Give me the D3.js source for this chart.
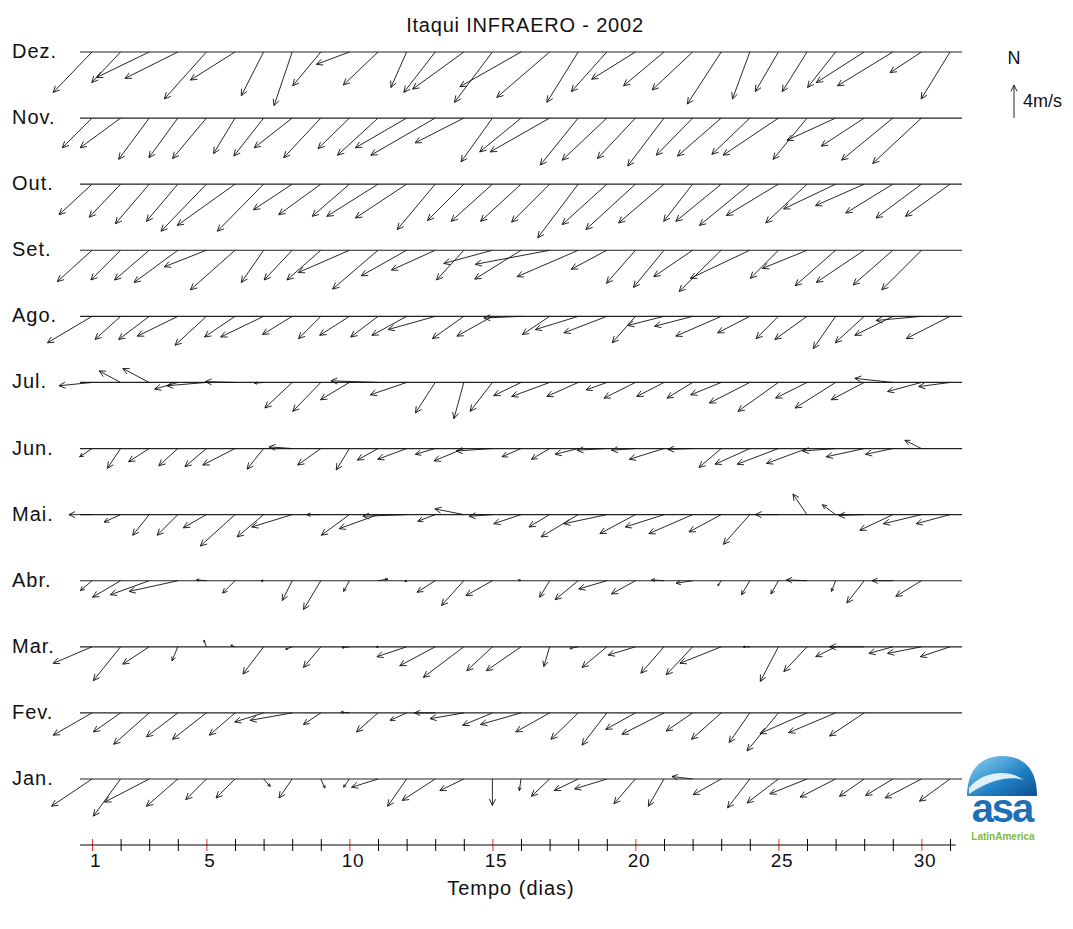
<!DOCTYPE html>
<html>
<head>
<meta charset="utf-8">
<script src="https://cdn.jsdelivr.net/npm/d3@7"></script>
<style>
  body { margin: 0; background: #fff; }
  svg text { font-family: "Liberation Sans", Arial, sans-serif; fill: #111; }
</style>
</head>
<body>
<svg id="chart"></svg>
<script>
// month rows, top to bottom
const months = ["Dez.", "Nov.", "Out.", "Set.", "Ago.", "Jul.", "Jun.", "Mai.", "Abr.", "Mar.", "Fev.", "Jan."];

// daily wind components (m/s): u = east, v = north
const uDez = [-4.7,-3.5,-6.4,-6.4,-5.1,-5.4,-2.7,-2.2,-3.4,-4.0,-4.2,-1.9,-3.8,-6.2,-4.6,-7.4,-6.4,-3.8,-4.3,-5.3,-4.9,-4.9,-4.1,-2.1,-2.8,-3.0,-3.4,-5.8,-6.7,-3.8,-3.5];
const vDez = [-4.9,-3.7,-3.1,-3.2,-5.7,-3.4,-5.3,-6.5,-4.1,-1.5,-4.0,-4.3,-4.9,-4.5,-6.1,-4.2,-5.5,-6.1,-4.8,-3.3,-4.1,-4.6,-6.3,-5.7,-4.8,-4.8,-4.3,-3.7,-4.1,-2.5,-5.7];
const uNov = [-3.6,-4.9,-3.7,-3.5,-4.1,-2.6,-3.6,-4.6,-4.5,-3.8,-4.9,-6.2,-7.8,-5.9,-3.8,-5.0,-7.2,-4.6,-5.4,-4.6,-4.4,-4.4,-5.3,-4.6,-6.7,-4.1,-5.9,-5.2,-6.2,-5.9];
const vNov = [-3.6,-3.6,-5.0,-4.8,-4.9,-4.3,-4.6,-3.6,-4.8,-3.7,-4.5,-3.6,-4.5,-3.0,-5.3,-4.1,-4.1,-5.7,-5.1,-4.9,-5.8,-4.5,-4.6,-4.4,-4.5,-5.0,-2.7,-3.4,-5.1,-5.5];
const uOut = [-4.0,-3.8,-4.1,-3.8,-5.5,-7.0,-5.6,-4.7,-5.1,-4.5,-6.2,-6.2,-4.6,-4.4,-5.0,-4.9,-4.6,-4.9,-5.4,-6.0,-5.5,-3.5,-5.5,-6.1,-6.3,-5.0,-6.3,-5.9,-5.7,-5.5,-5.4];
const vOut = [-3.7,-4.0,-4.8,-4.5,-5.7,-5.0,-5.7,-3.1,-3.7,-3.9,-3.9,-4.1,-5.5,-4.4,-4.5,-4.5,-4.6,-6.5,-4.9,-5.5,-4.7,-4.5,-4.5,-5.0,-3.8,-4.7,-3.0,-2.6,-3.5,-4.1,-3.9];
const uSet = [-4.2,-3.6,-4.2,-5.3,-5.1,-5.4,-2.7,-3.4,-4.1,-6.2,-5.5,-5.5,-5.3,-3.3,-5.9,-5.6,-9.0,-7.4,-4.3,-3.5,-3.7,-4.7,-5.1,-7.2,-3.4,-5.4,-4.9,-5.8,-4.8,-4.8];
const vSet = [-3.8,-3.6,-3.6,-3.9,-2.0,-4.8,-3.9,-3.6,-3.6,-2.7,-4.7,-3.1,-2.4,-3.6,-1.6,-3.5,-1.7,-3.2,-2.3,-4.0,-4.5,-3.2,-5.0,-3.4,-3.4,-2.2,-4.3,-3.9,-4.2,-4.8];
const uAgo = [-5.4,-3.1,-3.7,-4.9,-3.8,-3.7,-5.2,-3.6,-2.7,-3.6,-3.3,-4.2,-5.7,-3.8,-4.3,-4.5,-3.3,-5.2,-5.2,-2.8,-4.4,-4.6,-5.5,-3.9,-2.7,-3.9,-2.7,-3.5,-4.6,-5.5,-5.3];
const vAgo = [-3.2,-2.8,-2.8,-2.4,-3.5,-2.5,-2.5,-2.2,-2.7,-2.3,-2.5,-2.3,-1.6,-2.7,-2.4,-0.2,-2.2,-1.6,-2.0,-3.2,-1.1,-1.2,-2.4,-2.0,-2.7,-2.8,-3.9,-3.2,-2.3,-0.5,-2.7];
const uJul = [-4.0,-2.6,-3.2,-2.8,-4.8,-3.6,-1.1,-3.3,-3.4,-3.5,-5.7,-4.4,-2.4,-1.2,-2.7,-3.3,-4.6,-3.8,-2.5,-3.8,-3.3,-3.1,-3.7,-4.9,-4.9,-3.8,-4.9,-4.0,-4.6,-4.1,-3.8];
const vJul = [-0.4,1.4,1.7,-0.8,-0.4,0.1,-0.1,-3.1,-3.5,-2.1,0.2,-1.5,-3.7,-4.4,-3.5,-1.6,-1.7,-1.7,-0.9,-1.9,-1.7,-1.9,-1.5,-2.5,-3.5,-1.9,-3.1,-2.1,0.5,-1.1,-0.5];
const uJun = [-1.5,-1.6,-2.5,-2.3,-2.6,-3.9,-2.0,-2.8,-2.8,-1.6,-2.5,-3.5,-2.4,-3.6,-4.4,-2.3,-2.2,-2.8,-3.6,-2.9,-4.2,-3.0,-2.7,-4.2,-5.0,-4.9,-4.0,-4.6,-3.3,-2.0];
const vJun = [-1.0,-2.4,-1.6,-2.1,-2.2,-2.0,-2.5,0.2,-2.0,-2.6,-1.4,-1.3,-0.7,-1.5,-0.3,-1.0,-1.3,-0.7,-0.2,-0.2,-1.3,-0.1,-2.3,-1.9,-1.9,-1.8,-0.3,-1.0,-0.7,1.0];
const uMai = [-2.8,-2.0,-2.0,-2.5,-2.8,-4.2,-3.2,-4.9,-1.7,-3.4,-4.7,-5.3,-2.1,-3.5,-2.8,-3.3,-2.5,-4.5,-5.2,-4.3,-4.7,-5.3,-3.9,-3.2,-2.8,-1.7,-1.6,-3.1,-4.0,-4.6,-4.1];
const vMai = [0,-0.9,-2.5,-2.5,-1.6,-3.8,-2.7,-1.5,0,-2.5,-1.7,-0.2,-0.8,0.7,-0.2,-1.1,-1.5,-2.7,-1.1,-2.3,-1.5,-2.3,-2.1,-3.6,0,2.5,1.2,-0.1,-1.9,-1.1,-1.1];
const uAbr = [-1.4,-3.4,-4.7,-5.9,-1.2,-1.5,-0.3,-1.2,-2.1,-0.7,1.2,-0.2,-2.2,-2.7,-3.2,-0.3,-1.2,-2.8,-3.4,-2.9,-1.5,-2.0,-0.4,-1.0,-0.9,-2.5,-0.5,-2.1,-2.5,-3.1];
const vAbr = [-1.2,-2.0,-1.7,-1.3,0.1,-1.5,0,-2.4,-3.5,-1.3,0.2,-0.1,-1.4,-3.0,-1.8,0.1,-2.0,-2.3,-1.0,-1.6,0.1,-0.3,-0.6,-1.7,-1.6,0.1,-1.3,-2.7,0,-1.9];
const uMar = [-4.7,-3.3,-3.2,-0.7,-0.3,-0.5,-2.5,-0.8,-2.1,-0.9,-0.2,-3.6,-4.3,-4.9,-3.1,-4.2,-0.7,-1.0,-3.0,-3.3,-2.8,-3.2,-5.0,-0.8,-2.2,-2.8,-2.4,-4.2,-2.9,-4.1,-3.6];
const vMar = [-2.0,-4.1,-2.1,-1.7,0.8,0.2,-3.3,-0.3,-2.5,-0.1,0,-1.2,-2.3,-3.7,-2.9,-2.9,-2.4,-0.2,-2.5,-1.0,-3.2,-3.4,-2.0,0,-4.2,-3.0,-1.2,0,-0.8,-0.8,-1.2];
const uFev = [-4.7,-3.3,-4.3,-3.8,-4.1,-3.1,-3.5,-5.1,-2.1,-1.0,-2.6,-2.0,-2.5,-4.1,-3.6,-4.9,-4.1,-3.3,-3.0,-3.6,-5.1,-3.2,-3.6,-2.5,-3.8,-5.7,-5.7,-4.2];
const vFev = [-2.7,-2.3,-3.8,-2.9,-3.2,-2.7,-1.1,-0.9,-1.4,0.1,-2.3,-0.9,0,-0.7,-1.5,-1.4,-2.3,-3.2,-3.9,-2.0,-2.6,-2.2,-3.2,-3.6,-4.6,-2.5,-2.4,-2.8];
const uJan = [-4.9,-3.3,-5.4,-3.8,-2.5,-2.3,0.8,-1.6,0.5,-0.7,-3.2,-2.3,-4.0,-2.9,0,-0.2,-2.2,-2.9,-3.9,-2.6,-1.9,-2.5,-3.4,-2.7,-3.8,-4.5,-4.3,-3.0,-3.3,-4.4,-3.7];
const vJan = [-3.3,-4.5,-2.8,-3.3,-2.5,-2.3,-0.9,-2.3,-1.1,-1.0,-1.0,-3.3,-2.6,-1.4,-3.2,-1.4,-2.1,-1.4,-1.2,-3.0,-3.3,0.3,-1.9,-3.5,-2.9,-1.8,-2.2,-2.1,-2.0,-2.3,-2.7];

// axis ticks
const dayTicks = d3.range(1, 32);
const labelDays = [1, 5, 10, 15, 20, 25, 30];
const refSpeed = 4;

const uByMonth = [uDez, uNov, uOut, uSet, uAgo, uJul, uJun, uMai, uAbr, uMar, uFev, uJan];
const vByMonth = [vDez, vNov, vOut, vSet, vAgo, vJul, vJun, vMai, vAbr, vMar, vFev, vJan];

const width = 1073, height = 929;
const svg = d3.select("#chart").attr("width", width).attr("height", height);

const x = d3.scaleLinear().domain([1, 31]).range([92, 950]);
const y = d3.scalePoint().domain(months).range([52, 779]);
// m/s -> pixels
const sp = d3.scaleLinear().domain([0, 4]).range([0, 33]);

// title
svg.append("text")
    .attr("x", 525).attr("y", 32)
    .attr("text-anchor", "middle")
    .style("font-size", "20px")
    .style("letter-spacing", "0.8px")
    .text("Itaqui INFRAERO - 2002");

function arrowPath(x0, y0, x1, y1) {
    const dx = x1 - x0, dy = y1 - y0;
    const len = Math.sqrt(dx * dx + dy * dy);
    if (len < 0.01) return "";
    const h = Math.min(7, Math.max(2, 0.3 * len));
    const a = Math.atan2(dy, dx);
    const spread = 0.45;
    const hx1 = x1 - h * Math.cos(a - spread), hy1 = y1 - h * Math.sin(a - spread);
    const hx2 = x1 - h * Math.cos(a + spread), hy2 = y1 - h * Math.sin(a + spread);
    return `M${x0},${y0}L${x1},${y1}M${hx1},${hy1}L${x1},${y1}L${hx2},${hy2}`;
}

const rows = months.map((m, i) => ({
    month: m,
    days: uByMonth[i].map((u, j) => ({ day: j + 1, u: u, v: vByMonth[i][j] }))
}));

const row = svg.selectAll(".row")
    .data(rows)
    .enter()
    .append("g")
    .attr("class", "row")
    .attr("transform", d => `translate(0,${y(d.month)})`);

// baselines
row.append("line")
    .attr("x1", x(0.58)).attr("x2", x(31.42))
    .attr("y1", 0).attr("y2", 0)
    .attr("stroke", "#222").attr("stroke-width", 1.2);

// month labels
row.append("text")
    .attr("x", 12).attr("y", 6)
    .style("font-size", "20px")
    .style("letter-spacing", "1px")
    .text(d => d.month);

// wind arrows
row.selectAll(".arrow")
    .data(d => d.days)
    .enter()
    .append("path")
    .attr("class", "arrow")
    .attr("d", d => arrowPath(x(d.day), 0, x(d.day) + sp(d.u), -sp(d.v)))
    .attr("fill", "none")
    .attr("stroke", "#111")
    .attr("stroke-width", 0.9);

// time axis
const axisY = 845;
const axis = svg.append("g")
    .attr("transform", `translate(0,${axisY})`)
    .call(d3.axisBottom(x)
        .tickValues(dayTicks)
        .tickSize(6)
        .tickFormat(d => labelDays.includes(d) ? d : ""));
axis.select(".domain").remove();
axis.append("line")
    .attr("x1", x(0.58)).attr("x2", x(31.2))
    .attr("stroke", "#000");
axis.selectAll(".tick line")
    .attr("y1", -6).attr("y2", 6)
    .attr("stroke", d => labelDays.includes(d) ? "#e8302a" : "#000");
axis.selectAll(".tick text")
    .attr("x", 3)
    .attr("y", 9)
    .attr("dy", "0.71em")
    .style("font-size", "19px")
    .style("letter-spacing", "0.5px")
    .style("font-family", "'Liberation Sans', Arial, sans-serif");

svg.append("text")
    .attr("x", 511).attr("y", 895)
    .attr("text-anchor", "middle")
    .style("font-size", "20px")
    .style("letter-spacing", "1px")
    .text("Tempo (dias)");

// reference arrow
const lg = svg.append("g").attr("transform", "translate(1014,118)");
lg.append("text").attr("x", 0).attr("y", -54)
    .attr("text-anchor", "middle").style("font-size", "18px").text("N");
lg.append("path")
    .attr("d", arrowPath(0, 0, 0, -sp(refSpeed)))
    .attr("fill", "none").attr("stroke", "#111").attr("stroke-width", 0.9);
lg.append("text").attr("x", 9).attr("y", -11)
    .style("font-size", "18px").text(refSpeed + "m/s");

// logo
const logo = svg.append("g").attr("transform", "translate(1002,800)");
const defs = svg.append("defs");
const grad = defs.append("linearGradient").attr("id", "dome")
    .attr("x1", "0").attr("y1", "0").attr("x2", "1").attr("y2", "1");
grad.append("stop").attr("offset", "0").attr("stop-color", "#8fd3f0");
grad.append("stop").attr("offset", "0.6").attr("stop-color", "#1f7fc4");
grad.append("stop").attr("offset", "1").attr("stop-color", "#0d4f8f");
logo.append("path")
    .attr("d", "M-35,-4 C-35,-36 -15,-44 0,-44 C20,-44 35,-33 35,-4 Z")
    .attr("fill", "url(#dome)");
logo.append("path")
    .attr("d", "M-33,-12 C-20,-28 5,-32 22,-20 C10,-24 -10,-22 -33,-6 Z")
    .attr("fill", "#fff").attr("opacity", 0.85);
logo.append("text").attr("x", 0).attr("y", 22)
    .attr("text-anchor", "middle")
    .style("font-size", "40px").style("font-weight", "bold")
    .style("fill", "#1e6fb5").style("letter-spacing", "-2px")
    .text("asa");
logo.append("text").attr("x", 1).attr("y", 40)
    .attr("text-anchor", "middle")
    .style("font-size", "10px").style("font-weight", "bold")
    .style("fill", "#7dbb3a")
    .text("LatinAmerica");
</script>
</body>
</html>
